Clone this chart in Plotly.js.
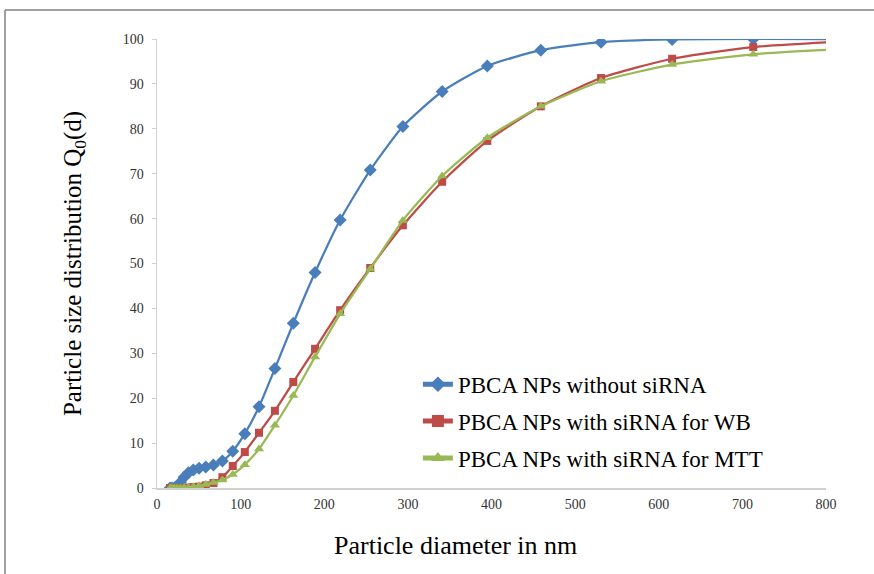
<!DOCTYPE html>
<html>
<head>
<meta charset="utf-8">
<script src="https://cdn.plot.ly/plotly-3.0.1.min.js"></script>
<style>
  html, body { margin: 0; padding: 0; background: #ffffff; }
  #chart { width: 874px; height: 574px; }
</style>
</head>
<body>
<div id="chart"></div>
<script>
// Particle diameter (nm) bins
const diameter = [15.6, 18.0, 20.8, 24.1, 28.0, 32.4, 37.5, 43.4, 50.3, 58.3, 67.5, 78.2, 90.6, 105, 122, 141, 163, 189, 219, 255, 294, 341, 395, 459, 531, 616, 713, 826];

// Cumulative distribution Q0(d), %
const withoutSiRNA = [0, 0, 0, 0.3, 1.3, 2.4, 3.4, 4.0, 4.4, 4.7, 5.1, 6.0, 8.2, 12.1, 18.1, 26.6, 36.7, 48.0, 59.7, 70.8, 80.5, 88.3, 94.0, 97.5, 99.3, 99.9, 100, 100];
const withSiRNA_WB = [0, 0, 0, 0, 0, 0, 0.1, 0.2, 0.3, 0.6, 1.1, 2.4, 4.9, 8.0, 12.3, 17.2, 23.6, 31.0, 39.6, 49.0, 58.5, 68.2, 77.3, 85.0, 91.3, 95.6, 98.2, 99.5];
const withSiRNA_MTT = [0, 0, 0, 0, 0, 0.1, 0.1, 0.3, 0.5, 0.8, 1.2, 1.8, 3.0, 5.2, 8.7, 14.0, 20.6, 29.2, 38.8, 48.8, 59.6, 69.5, 78.0, 85.0, 90.6, 94.3, 96.6, 97.8];

const seriesNames = ["PBCA NPs without siRNA", "PBCA NPs with siRNA for WB", "PBCA NPs with siRNA for MTT"];
const xTicks = [0, 100, 200, 300, 400, 500, 600, 700, 800];
const yTicks = [0, 10, 20, 30, 40, 50, 60, 70, 80, 90, 100];
const xTitle = 'Particle diameter in nm';
const yTitle = 'Particle size distribution Q<sub>0</sub>(d)';

const serif = 'Liberation Serif';

function trace(y, name, color, symbol, size, group) {
  return {
    x: diameter, y: y, name: name, type: 'scatter', mode: 'lines+markers',
    legendgroup: group,
    line: { color: color, width: 2.25, shape: 'spline', smoothing: 0.6 },
    marker: { color: color, symbol: symbol, size: size, line: { width: 0 } },
    cliponaxis: true
  };
}

const data = [
  trace(withoutSiRNA, seriesNames[0], '#4a7ebb', 'diamond', 10, 'a'),
  trace(withSiRNA_WB, seriesNames[1], '#be4b48', 'square', 8, 'b'),
  trace(withSiRNA_MTT, seriesNames[2], '#98b954', 'triangle-up', 9, 'c')
];

const layout = {
  width: 874, height: 574,
  margin: { l: 157, r: 48, t: 39, b: 86 },
  paper_bgcolor: '#ffffff', plot_bgcolor: '#ffffff',
  font: { family: serif, color: '#000000' },
  showlegend: true,
  legend: {
    x: 0.39, y: 0.279, xanchor: 'left', yanchor: 'top',
    bgcolor: 'rgba(0,0,0,0)', borderwidth: 0,
    font: { family: serif, size: 23, color: '#000000' },
    traceorder: 'grouped', tracegroupgap: 4,
    itemwidth: 30, itemsizing: 'constant'
  },
  xaxis: {
    range: [0, 800], tickvals: xTicks, ticktext: xTicks.map(String),
    showgrid: false, zeroline: false,
    showline: true, linecolor: '#d0d0d0', linewidth: 1.5,
    ticks: '', ticklabelstandoff: 3,
    tickfont: { family: serif, size: 14, color: '#333333' },
    automargin: false
  },
  yaxis: {
    range: [0, 100], tickvals: yTicks, ticktext: yTicks.map(String),
    showgrid: false, zeroline: false,
    showline: true, linecolor: '#d0d0d0', linewidth: 1.5,
    ticks: 'outside', ticklen: 4, tickcolor: '#d0d0d0', tickwidth: 1,
    ticklabelstandoff: 5,
    tickfont: { family: serif, size: 14, color: '#333333' },
    title: { text: yTitle, font: { family: serif, size: 25, color: '#000000' }, standoff: 34 },
    automargin: false
  },
  annotations: [
    { text: xTitle, xref: 'paper', yref: 'paper', x: (455 - 157) / 669, y: -0.128,
      xanchor: 'center', yanchor: 'middle', showarrow: false,
      font: { family: serif, size: 26, color: '#000000' } }
  ],
  shapes: [
    { type: 'line', xref: 'paper', yref: 'paper', x0: -0.2272, x1: 1.08, y0: 1.0646, y1: 1.0646, line: { color: '#808080', width: 1.5 } },
    { type: 'line', xref: 'paper', yref: 'paper', x0: -0.2272, x1: -0.2272, y0: 1.0646, y1: -0.2, line: { color: '#808080', width: 1.5 } }
  ]
};

Plotly.newPlot('chart', data, layout, { staticPlot: true, displayModeBar: false });
</script>
</body>
</html>
